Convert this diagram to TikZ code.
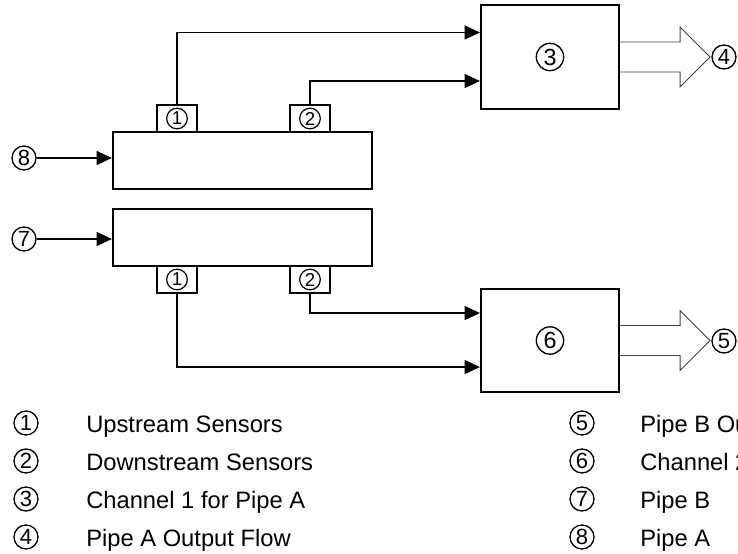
\documentclass[tikz,border=0pt]{standalone}
\usepackage{fontspec}
\setmainfont{Liberation Sans}
\usetikzlibrary{arrows.meta}
\begin{document}
\begin{tikzpicture}[x=0.75pt,y=-0.75pt,
  box/.style={draw, line width=1.6pt, fill=white, inner sep=0pt},
  sensor/.style={draw, line width=1.1pt, fill=white, minimum width=30pt,
    minimum height=20.25pt, inner sep=0pt},
  num/.style={circle, draw, line width=1pt, inner sep=0pt, minimum size=18pt,
    font=\fontsize{16.5}{16.5}\selectfont},
  bignum/.style={num, minimum size=20.5pt, font=\fontsize{17.5}{17.5}\selectfont},
  smallnum/.style={num, minimum size=15.5pt, line width=0.9pt,
    font=\fontsize{14}{14}\selectfont},
  wire/.style={line width=1.1pt, -{Triangle[length=11.5pt,width=10.5pt]}},
  flow/.style={draw=black!75, line width=0.7pt},
  legtext/.style={anchor=base west, inner sep=0pt, font=\fontsize{17.8}{17.8}\selectfont}
]
\useasboundingbox (0,0) rectangle (738,553);
\clip (0,0) rectangle (738,553);

% channel blocks
\node[box, minimum width=103.5pt, minimum height=78pt] (ch1) at (550,57) {};
\node[bignum] (ch1n) at (ch1.center) {3};
\node[box, minimum width=103.5pt, minimum height=77.25pt] (ch2) at (550,340.5) {};
\node[bignum] (ch2n) at (ch2.center) {6};

% pipes
\node[box, minimum width=194.25pt, minimum height=42.75pt] (pa) at (242.5,160.5) {};
\node[box, minimum width=194.25pt, minimum height=42.75pt] (pb) at (242.5,237.5) {};

% sensors on pipe A
\node[sensor] (ua) at (177,118.5) {};
\node[smallnum] (uan) at (ua.center) {1};
\node[sensor] (da) at (310,118.5) {};
\node[smallnum] (dan) at (da.center) {2};
% sensors on pipe B
\node[sensor] (ub) at (177,279.5) {};
\node[smallnum] (ubn) at (ub.center) {1};
\node[sensor] (db) at (310,279.5) {};
\node[smallnum] (dbn) at (db.center) {2};

% sensor signals to the channels
\draw[wire] (ua.north) |- ([yshift=18.4pt]ch1.west);
\draw[wire] (da.north) |- ([yshift=-18pt]ch1.west);
\draw[wire] (db.south) |- ([yshift=20.6pt]ch2.west);
\draw[wire] (ub.south) |- ([yshift=-19.9pt]ch2.west);

% pipe inputs
\node[num] (n8) at (24,158) {8};
\draw[wire] (n8.east) -- (n8.east -| pa.west);
\node[num] (n7) at (24,239) {7};
\draw[wire] (n7.east) -- (n7.east -| pb.west);

% output flow arrows
\draw[flow] ([yshift=11.25pt]ch1.east) -- ++(60,0) -- ++(0,-15) -- ++(30,30)
  -- ++(-30,30) -- ++(0,-15) -- ++(-60,0);
\node[num] (n4) at (724,57) {4};
\draw[flow] ([yshift=11.25pt]ch2.east) -- ++(60,0) -- ++(0,-15) -- ++(30,30)
  -- ++(-30,30) -- ++(0,-15) -- ++(-60,0);
\node[num] (n5) at (724,341) {5};

% legend
\node[num] (l1) at (26,423) {1};
\node[legtext] (t1) at (86,432) {Upstream Sensors};
\node[num] (l2) at (26,461) {2};
\node[legtext] (t2) at (86,470) {Downstream Sensors};
\node[num] (l3) at (26,499) {3};
\node[legtext] (t3) at (86,508) {Channel 1 for Pipe A};
\node[num] (l4) at (26,537) {4};
\node[legtext] (t4) at (86,546) {Pipe A Output Flow};

\node[num] (l5) at (582,423) {5};
\node[legtext] (t5) at (640,432) {Pipe B Output Flow};
\node[num] (l6) at (582,461) {6};
\node[legtext] (t6) at (640,470) {Channel 2 for Pipe B};
\node[num] (l7) at (582,499) {7};
\node[legtext] (t7) at (640,508) {Pipe B};
\node[num] (l8) at (582,537) {8};
\node[legtext] (t8) at (640,546) {Pipe A};
\end{tikzpicture}
\end{document}
